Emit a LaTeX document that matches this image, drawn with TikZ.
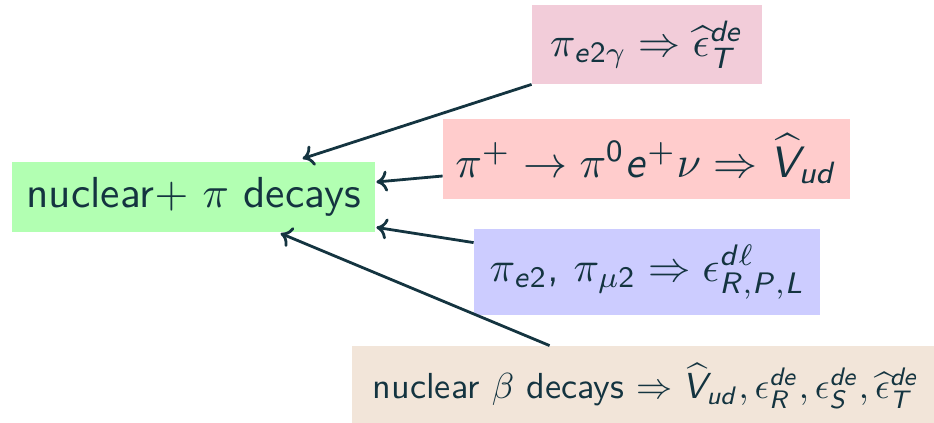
\documentclass[tikz,border=0pt]{standalone}
\usepackage{graphicx}
\usetikzlibrary{calc,arrows.meta}
\DeclareSymbolFont{sfit}{OT1}{cmss}{m}{sl}
\DeclareSymbolFont{sfup}{OT1}{cmss}{m}{n}
\DeclareMathSymbol{e}{\mathalpha}{sfit}{`e}
\DeclareMathSymbol{d}{\mathalpha}{sfit}{`d}
\DeclareMathSymbol{u}{\mathalpha}{sfit}{`u}
\DeclareMathSymbol{T}{\mathalpha}{sfit}{`T}
\DeclareMathSymbol{V}{\mathalpha}{sfit}{`V}
\DeclareMathSymbol{R}{\mathalpha}{sfit}{`R}
\DeclareMathSymbol{P}{\mathalpha}{sfit}{`P}
\DeclareMathSymbol{L}{\mathalpha}{sfit}{`L}
\DeclareMathSymbol{S}{\mathalpha}{sfit}{`S}
\DeclareMathSymbol{0}{\mathalpha}{sfup}{`0}
\DeclareMathSymbol{2}{\mathalpha}{sfup}{`2}
\definecolor{ink}{RGB}{20,52,64}
\tikzset{
  box/.style={inner sep=0pt, text=ink, font=\sffamily},
  arr/.style={draw=ink, line width=1.4pt, -{Computer Modern Rightarrow[length=5.5pt,width=10.5pt]}},
}
\begin{document}
\begin{tikzpicture}[x=0.5pt,y=-0.5pt]
\useasboundingbox (0,0) rectangle (934,423);
\clip (0,0) rectangle (934,423);
\node[box, fill=green!30, minimum width=181.5pt, minimum height=35pt] (nuc) at (193.5,197)
  {\scalebox{2.17}{nuclear$+$ $\pi$ decays}};
\node[box, fill=purple!20, minimum width=115pt, minimum height=39.5pt] (pink) at (647,44.5)
  {\scalebox{2.1}{$\pi_{e2\gamma} \Rightarrow \widehat{\epsilon}^{de}_{T}$}};
\node[box, fill=red!20, minimum width=203.5pt, minimum height=40pt] (red) at (646.5,159)
  {\scalebox{2.2}{$\pi^+ \to \pi^0 e^+ \nu \Rightarrow \widehat{V}_{ud}$}};
\node[box, fill=blue!20, minimum width=173pt, minimum height=43pt] (blue) at (647,272)
  {\scalebox{2.12}{$\pi_{e2}$, $\pi_{\mu 2} \Rightarrow \epsilon^{d\ell}_{R,P,L}$}};
\node[box, fill=brown!20, minimum width=294pt, minimum height=40pt] (beige) at (646,386)
  {\scalebox{1.81}{nuclear $\beta$ decays $\Rightarrow \widehat{V}_{ud}, \epsilon^{de}_{R}, \epsilon^{de}_{S}, \widehat{\epsilon}^{de}_{T}$}};
\draw[arr] (pink.south west) -- ($(nuc.north west)+(291,-3)$);
\draw[arr] ($(red.west)+(0,17)$) -- ($(nuc.east)+(1,-15)$);
\draw[arr] ($(blue.north west)+(0,14)$) -- ($(nuc.south east)+(1,-5)$);
\draw[arr] ($(beige.north west)+(198,0)$) -- ($(nuc.south west)+(269,1)$);
\end{tikzpicture}
\end{document}
